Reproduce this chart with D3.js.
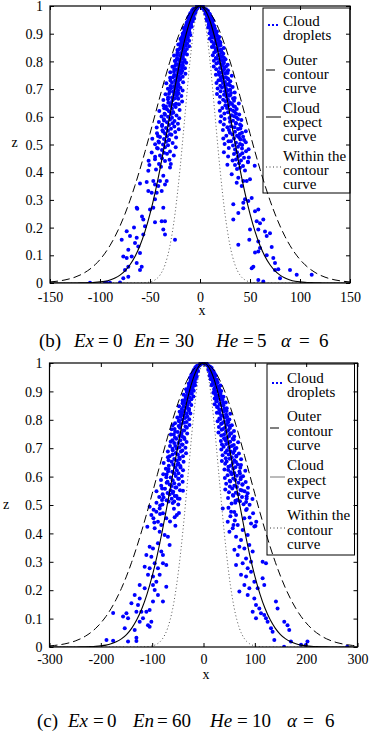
<!DOCTYPE html>
<html>
<head>
<meta charset="utf-8">
<script src="https://cdn.jsdelivr.net/npm/d3@7"></script>
<style>
  body { margin: 0; background: #fff; }
  text { font-family: "Liberation Serif", "DejaVu Serif", serif; fill: #000; }
</style>
</head>
<body>
<div id="chart"></div>
<script>
// ---- data ----
const yTicks = [0, 0.1, 0.2, 0.3, 0.4, 0.5, 0.6, 0.7, 0.8, 0.9, 1];
const yTickLabels = ["0", "0.1", "0.2", "0.3", "0.4", "0.5", "0.6", "0.7", "0.8", "0.9", "1"];
const xTicksB = [-150, -100, -50, 0, 50, 100, 150];
const xTicksC = [-300, -200, -100, 0, 100, 200, 300];

// sample positions of the three curves
const curveXB = [-150,-145,-140,-135,-130,-125,-120,-115,-110,-105,-100,-95,-90,-85,-80,-75,-70,-65,-60,-55,-50,-45,-40,-35,-30,-25,-20,-15,-10,-5,
  0,5,10,15,20,25,30,35,40,45,50,55,60,65,70,75,80,85,90,95,100,105,110,115,120,125,130,135,140,145,150];
const curveXC = [-300,-290,-280,-270,-260,-250,-240,-230,-220,-210,-200,-190,-180,-170,-160,-150,-140,-130,-120,-110,-100,-90,-80,-70,-60,-50,-40,-30,-20,-10,
  0,10,20,30,40,50,60,70,80,90,100,110,120,130,140,150,160,170,180,190,200,210,220,230,240,250,260,270,280,290,300];

// z of each curve at those positions (same shape in both panels)
const zExpect = [0,0,0,0,0.0001,0.0002,0.0003,0.0006,0.0012,0.0022,0.0039,0.0066,0.0111,0.0181,0.0286,0.0439,0.0657,0.0956,0.1353,0.1863,
  0.2494,0.3247,0.4111,0.5063,0.6065,0.7066,0.8007,0.8825,0.9460,0.9862,1,0.9862,0.9460,0.8825,0.8007,0.7066,0.6065,0.5063,0.4111,0.3247,
  0.2494,0.1863,0.1353,0.0956,0.0657,0.0439,0.0286,0.0181,0.0111,0.0066,0.0039,0.0022,0.0012,0.0006,0.0003,0.0002,0.0001,0,0,0,0];
const zOuter = [0.0039,0.0056,0.0079,0.0111,0.0154,0.0211,0.0286,0.0382,0.0504,0.0657,0.0847,0.1077,0.1353,0.1680,0.2059,0.2494,0.2982,0.3523,0.4111,0.4738,
  0.5394,0.6065,0.6736,0.7390,0.8007,0.8570,0.9060,0.9460,0.9756,0.9938,1,0.9938,0.9756,0.9460,0.9060,0.8570,0.8007,0.7390,0.6736,0.6065,
  0.5394,0.4738,0.4111,0.3523,0.2982,0.2494,0.2059,0.1680,0.1353,0.1077,0.0847,0.0657,0.0504,0.0382,0.0286,0.0211,0.0154,0.0111,0.0079,0.0056,0.0039];
const zInner = [0,0,0,0,0,0,0,0,0,0,0,0,0,0,0,0,0,0.0001,0.0003,0.0012,
  0.0039,0.0111,0.0286,0.0657,0.1353,0.2494,0.4111,0.6065,0.8007,0.9460,1,0.9460,0.8007,0.6065,0.4111,0.2494,0.1353,0.0657,0.0286,0.0111,
  0.0039,0.0012,0.0003,0.0001,0,0,0,0,0,0,0,0,0,0,0,0,0,0,0,0,0];

// cloud droplets [x, z], panel (b)
const dropsB = [
  [0,1],[-1,0.999],[-2,0.998],[-3,0.995],[-4,0.99],[-4.5,0.98],[-5,0.985],[-5.5,0.975],[-6,0.98],[-6.5,0.97],[-7,0.975],[-7.5,0.96],[-8,0.965],[-8.5,0.955],[-9,0.96],
  [1,0.999],[2,0.997],[3,0.993],[3.5,0.99],[4,0.99],[5,0.985],[5.5,0.98],[6,0.978],[6.5,0.973],[7,0.97],[7.5,0.965],[8,0.962],[8.5,0.95],[9,0.958],
  [-3.5,0.988],[2.5,0.992],[-2.5,0.993],[4.5,0.986],[-5,0.978],
  [-10,0.97],[-11,0.962],[-12,0.958],[-6,0.99],[-8,0.984],[-9.5,0.975],[-3,0.999],[10,0.968],[11,0.96],[12,0.955],[6,0.988],[8,0.982],[9.5,0.972],[3,0.998],
  [-7,0.988],[7,0.985],[-10.5,0.965],[10.5,0.962],
  [-8,0.955],[-11,0.952],[-9,0.948],[-12,0.945],[-7.5,0.947],[-10,0.94],[-13,0.938],[-8.5,0.942],[-11.5,0.935],[-9,0.932],[-12,0.93],[-14,0.927],[-10,0.931],
  [-11,0.925],[-13.5,0.922],[-12.5,0.92],[-10.5,0.918],[-15,0.917],[-13,0.915],[-11,0.912],[-14,0.91],[-12,0.908],[-16,0.906],[-13.5,0.905],[-11.5,0.902],
  [-15,0.9],[-12.5,0.897],[-17,0.898],[-14,0.895],[-16.5,0.892],[-13,0.89],[-15.5,0.887],[-18,0.888],[-16,0.88],[-14,0.878],[-19,0.882],[-15,0.87],
  [-17.5,0.868],[-18,0.86],[-14.5,0.857],[-20,0.862],[-16.5,0.85],[-19.5,0.848],[-17,0.84],[-21,0.843],[-15,0.837],[-19,0.83],[-16,0.827],[-20,0.82],
  [-17.5,0.818],[-23,0.823],[-18.5,0.81],[-21.5,0.808],[-20,0.8],[-24,0.803],[-17,0.797],[-22,0.79],[-19,0.787],[-21,0.78],[-25,0.783],[-18,0.776],
  [-23,0.77],[-20,0.767],[-22,0.76],[-26,0.763],[-19,0.757],[-24,0.75],[-21,0.747],[-23,0.74],[-27,0.743],[-20,0.737],[-25,0.73],[-22,0.727],[-24,0.72],
  [-28,0.723],[-21.5,0.716],[-26,0.71],[-23,0.707],[-25,0.7],[-29,0.703],[-22,0.696],[-27,0.69],[-24,0.687],[-26,0.68],[-31,0.683],[-23,0.676],[-28,0.67],
  [-25,0.667],[-27.5,0.66],[-32,0.663],[-29,0.65],[-24,0.647],[-30,0.64],[-26,0.643],[-34,0.637],[-28,0.63],[-33,0.627],[-31,0.62],[-27,0.617],[-29,0.61],
  [-35,0.607],[-32,0.6],[-28,0.597],[-30,0.59],[-36,0.587],[-33,0.58],[-27.5,0.577],[-31,0.57],[-38,0.567],[-34,0.56],[-29,0.557],[-32,0.55],[-37,0.547],
  [-35,0.54],[-30,0.537],[-33,0.53],[-40,0.527],[-36,0.52],[-31,0.517],[-34,0.51],[-41,0.507],[-37,0.5],[-32,0.497],[-35,0.49],[-43,0.487],[-38,0.48],
  [-36,0.47],[-33,0.467],[-40,0.46],[-38,0.45],[-45,0.447],[-35,0.44],[-41,0.43],[-39,0.42],[-30,0.417],[-44,0.41],
  [-4.7,0.975],[-8,0.971],[-6.4,0.965],[-10.8,0.961],[-5.9,0.955],[-10.5,0.951],[-7.6,0.945],[-13.1,0.941],[-9.4,0.935],[-13.8,0.931],[-8.3,0.925],[-16.5,0.921],
  [-11.3,0.915],[-15.1,0.911],[-10.5,0.905],[-17.2,0.901],[-9.6,0.895],[-16.6,0.891],[-12.1,0.885],[-19.5,0.881],[-10.9,0.875],[-18.6,0.871],[-12.9,0.865],
  [-21.7,0.861],[-10.9,0.855],[-19.3,0.851],[-13.1,0.845],[-22.6,0.841],[-15.3,0.835],[-22.5,0.831],[-13,0.825],[-26,0.821],[-17.3,0.815],[-23,0.811],
  [-15.4,0.805],[-25.2,0.801],[-13.8,0.795],[-24,0.791],[-17.1,0.785],[-27.6,0.781],[-15,0.775],[-25.7,0.771],[-17.6,0.765],[-29.7,0.761],[-14.6,0.755],
  [-25.9,0.751],[-17.3,0.745],[-29.9,0.741],[-20.1,0.735],[-29.5,0.731],[-16.9,0.725],[-33.7,0.721],[-22.1,0.715],[-29.5,0.711],[-19.6,0.705],[-32.1,0.701],
  [-17.4,0.695],[-30.2,0.691],[-21.4,0.685],[-34.5,0.681],[-18.6,0.675],[-31.9,0.671],[-21.7,0.665],[-36.6,0.661],[-17.9,0.655],[-31.7,0.651],[-21.1,0.645],
  [-36.5,0.641],[-24.3,0.635],[-35.8,0.631],[-20.4,0.625],[-40.7,0.621],[-26.6,0.615],[-35.5,0.611],[-23.5,0.605],[-38.5,0.601],[-20.8,0.595],[-36.1,0.591],
  [-25.5,0.585],[-41.1,0.581],[-22.1,0.575],[-37.9,0.571],[-25.7,0.565],[-43.3,0.561],[-21.2,0.555],[-37.5,0.551],[-24.8,0.545],[-43,0.541],[-28.6,0.535],
  [-42,0.531],[-23.9,0.525],[-47.7,0.521],[-31.1,0.515],[-41.5,0.511],[-27.4,0.505],[-44.9,0.501],[-24.3,0.49],[-42.2,0.486],[-30,0.475],[-48.3,0.471],
  [-26.2,0.46],[-44.9,0.456],[-30.5,0.445],[-51.4,0.441],[-29.2,0.43],[-50.6,0.426],
  [8.5,0.955],[10.5,0.951],[7,0.947],[11,0.944],[9.5,0.946],[12,0.94],[9,0.937],[10,0.934],[13,0.931],[11.5,0.928],[14,0.925],[9.5,0.922],[12.5,0.92],
  [15,0.918],[13.5,0.915],[11,0.912],[12,0.908],[16,0.906],[14.5,0.904],[13,0.9],[15.5,0.897],[17,0.893],[14,0.89],[12.5,0.886],[15,0.884],[18,0.881],
  [16,0.876],[19.5,0.873],[15,0.866],[17.5,0.864],[20,0.861],[18.5,0.856],[14,0.852],[17,0.846],[21,0.843],[19,0.84],[16,0.836],[22,0.832],[19.5,0.826],
  [18,0.822],[21,0.816],[24,0.813],[17,0.81],[20,0.806],[22.5,0.802],[18.5,0.796],[23.5,0.793],[21,0.79],[22,0.786],[26,0.782],[20,0.776],[24,0.772],
  [23,0.766],[27,0.763],[21.5,0.76],[25,0.756],[19,0.752],[22.5,0.746],[26,0.743],[24,0.74],[28,0.736],[21,0.732],[25,0.726],[23,0.722],[27,0.716],
  [30,0.713],[24.5,0.71],[22,0.706],[26,0.702],[28,0.696],[25,0.692],[31,0.686],[27,0.683],[24,0.68],[29,0.676],[26.5,0.672],[33,0.666],[28,0.662],
  [25.5,0.656],[30,0.652],[32,0.646],[28.5,0.642],[35,0.636],[27,0.632],[30.5,0.626],[33,0.622],[28,0.616],[36,0.612],[31.5,0.606],[34,0.602],
  [29.5,0.596],[38,0.592],[33,0.586],[30,0.582],[36,0.576],[40,0.572],[31,0.566],[34.5,0.562],[38,0.556],[29,0.552],[35,0.546],[42,0.542],[32.5,0.536],
  [37,0.532],[39,0.526],[34,0.522],[44,0.516],[31,0.512],[36,0.506],[40,0.502],[33,0.496],[38,0.492],[42,0.486],[35,0.482],[46,0.476],[37,0.472],
  [34,0.466],[40,0.462],[38,0.456],[44,0.452],[36,0.446],[41,0.442],[48,0.436],[39,0.432],[35,0.426],[43,0.422],[40,0.416],[37,0.412],[45,0.406],
  [5.3,0.972],[9.2,0.968],[7.1,0.962],[10.4,0.958],[6.6,0.952],[13.2,0.948],[9.4,0.942],[12.5,0.938],[8.7,0.932],[14.3,0.928],[8.2,0.922],[14.2,0.918],
  [10.6,0.912],[17,0.908],[9.5,0.902],[16.3,0.898],[11.4,0.892],[19.3,0.888],[9.8,0.882],[17.3,0.878],[11.8,0.872],[20.4,0.868],[13.9,0.862],[20.4,0.858],
  [11.9,0.852],[23.8,0.848],[15.8,0.842],[21.1,0.838],[14.2,0.832],[23.3,0.828],[12.8,0.822],[22.2,0.818],[15.8,0.812],[25.5,0.808],[13.9,0.802],[23.9,0.798],
  [16.4,0.792],[27.7,0.788],[13.7,0.782],[24.2,0.778],[16.2,0.772],[28.1,0.768],[18.8,0.762],[27.6,0.758],[15.9,0.752],[31.8,0.748],[20.9,0.742],[27.8,0.738],
  [18.5,0.732],[30.3,0.728],[16.5,0.722],[28.6,0.718],[20.3,0.712],[32.6,0.708],[17.6,0.702],[30.2,0.698],[20.6,0.692],[34.7,0.688],[17,0.682],[30.1,0.678],
  [20,0.672],[34.7,0.668],[23.1,0.662],[34,0.658],[19.4,0.652],[38.8,0.648],[25.4,0.642],[33.8,0.638],[22.4,0.632],[36.7,0.628],[19.9,0.622],[34.5,0.618],
  [24.4,0.612],[39.2,0.608],[21.1,0.602],[36.2,0.598],[24.6,0.592],[41.4,0.588],[20.3,0.582],[35.9,0.578],[23.8,0.572],[41.2,0.568],[27.4,0.562],[40.3,0.558],
  [22.9,0.552],[45.8,0.548],[29.9,0.542],[39.8,0.538],[26.3,0.532],[43.1,0.528],[23.3,0.522],[40.4,0.518],[28.5,0.512],[45.8,0.508],[24.6,0.502],[42.2,0.498],
  [28.8,0.487],[48.6,0.483],[23.9,0.472],[42.3,0.468],[28.1,0.457],[48.8,0.453],[32.6,0.442],[47.9,0.438],[27.4,0.427],[54.7,0.423],
  [-51.7,0.405],[-60,0.359],[-53.3,0.365],[-51.7,0.332],[-46.7,0.368],[-45,0.356],[-48.3,0.326],[-43.3,0.326],[-41.7,0.35],[-40,0.368],[-36.7,0.387],
  [-35,0.356],[-33.3,0.368],[-38.3,0.332],[-45,0.302],[-46.7,0.272],[-50,0.265],[-63.3,0.272],[-36.7,0.272],[-56.7,0.229],[-55,0.205],[-45,0.219],
  [-38.3,0.223],[-35,0.223],[-36.7,0.193],[-35,0.175],[-25,0.156],[-73.3,0.187],[-78.3,0.156],[-63.3,0.163],[-65,0.144],[-61.7,0.132],[-56.7,0.175],
  [-71.7,0.12],[-76.7,0.096],[-73.3,0.09],[-68.3,0.096],[-60,0.108],[-63.3,0.072],[-58.3,0.059],[-60,0.047],[-71.7,0.059],[-75,0.047],[-76.7,0.017],
  [-71.7,0.023],[-80,0.002],[-90,0.001],[-93.3,0.001],[-110,0.001],[-95,0.001],[-62.7,0.268],[-58,0.24],[-66,0.2],[-70,0.17],
  [36.7,0.362],[31.7,0.393],[38.3,0.38],[41.7,0.35],[43.3,0.368],[46.7,0.368],[50,0.375],[45,0.302],[43.3,0.29],[48.3,0.296],[51.7,0.307],[55,0.259],
  [58.3,0.265],[33.3,0.284],[38.3,0.253],[43.3,0.27],[33.3,0.229],[56.7,0.223],[60,0.216],[63.3,0.229],[58.3,0.193],[65,0.186],[70,0.18],[66.7,0.17],
  [38.3,0.138],[60,0.126],[58.3,0.114],[55,0.11],[58.3,0.15],[49.3,0.156],[50,0.193],[53.3,0.059],[51.7,0.053],[73.3,0.09],[75,0.072],[78.3,0.05],
  [80,0.017],[90,0.047],[96.7,0.03],[111.7,0.03],[58.3,0.011],[63.3,0.005],[66.7,0.1],[71.7,0.13],[75,0.047]
];

// cloud droplets [x, z], panel (c)
const dropsC = [
  [-2,0.999],[-5,0.997],[-8,0.992],[-10,0.988],[-12,0.984],[-14,0.978],[-6,0.994],[-11,0.986],[-15,0.97],[-13,0.975],[-16,0.965],[-9,0.99],[-4,0.998],[-17,0.96],
  [2,0.999],[5,0.996],[7,0.993],[10,0.987],[12,0.983],[14,0.976],[9,0.99],[15,0.972],[13,0.978],[16,0.964],[11,0.985],[3,0.998],[17,0.958],[6,0.995],[0,1],
  [-20,0.97],[-22,0.962],[-24,0.958],[-12,0.99],[-16,0.984],[-19,0.975],[-6,0.999],[20,0.968],[22,0.96],[24,0.955],[12,0.988],[16,0.982],[19,0.972],[6,0.998],
  [-14,0.988],[14,0.985],[-21,0.965],[21,0.962],
  [-18,0.952],[-22,0.948],[-15,0.944],[-20,0.94],[-25,0.936],[-17,0.932],[-23,0.928],[-27,0.924],[-20,0.92],[-25,0.915],[-29,0.911],[-22,0.907],[-27,0.902],
  [-31,0.898],[-24,0.894],[-30,0.889],[-34,0.884],[-27,0.879],[-32,0.874],[-37,0.869],[-29,0.864],[-35,0.858],[-31,0.852],[-39,0.847],[-34,0.842],[-28,0.838],
  [-37,0.832],[-42,0.827],[-33,0.822],[-39,0.816],[-45,0.811],[-36,0.806],[-41,0.8],[-48,0.795],[-38,0.79],[-44,0.785],[-60,0.781],[-35,0.776],[-46,0.772],
  [-62,0.767],[-40,0.762],[-50,0.757],[-43,0.752],[-58,0.748],[-47,0.743],[-38,0.738],[-53,0.733],[-45,0.728],[-64,0.723],[-49,0.718],[-42,0.713],[-55,0.708],
  [-47,0.703],[-52,0.698],[-60,0.693],[-44,0.688],[-54,0.683],[-50,0.678],[-66,0.672],[-47,0.667],[-57,0.662],[-52,0.657],[-62,0.652],[-49,0.647],[-59,0.642],
  [-45,0.637],[-55,0.632],[-68,0.627],[-52,0.622],[-61,0.617],[-57,0.612],[-72,0.607],[-54,0.602],[-64,0.597],[-48,0.592],[-60,0.587],[-70,0.582],[-57,0.577],
  [-66,0.572],[-62,0.567],[-53,0.562],[-75,0.557],[-64,0.552],[-59,0.547],[-70,0.542],[-66,0.537],[-56,0.532],[-78,0.527],[-62,0.522],[-72,0.517],[-68,0.512],
  [-60,0.507],[-80,0.502],
  [-10.6,0.972],[-18.4,0.968],[-14.2,0.962],[-20.8,0.958],[-13.2,0.952],[-26.4,0.948],[-18.8,0.942],[-25,0.938],[-17.4,0.932],[-28.6,0.928],[-16.4,0.922],
  [-28.4,0.918],[-21.2,0.912],[-34,0.908],[-19,0.902],[-32.6,0.898],[-22.8,0.892],[-38.6,0.888],[-19.6,0.882],[-34.6,0.878],[-23.6,0.872],[-40.8,0.868],
  [-27.8,0.862],[-40.8,0.858],[-23.8,0.852],[-47.6,0.848],[-31.6,0.842],[-42.2,0.838],[-28.4,0.832],[-46.6,0.828],[-25.6,0.822],[-44.4,0.818],[-31.6,0.812],
  [-51,0.808],[-27.8,0.802],[-47.8,0.798],[-32.8,0.792],[-55.4,0.788],[-27.4,0.782],[-48.4,0.778],[-32.4,0.772],[-56.2,0.768],[-37.6,0.762],[-55.2,0.758],
  [-31.8,0.752],[-63.6,0.748],[-41.8,0.742],[-55.6,0.738],[-37,0.732],[-60.6,0.728],[-33,0.722],[-57.2,0.718],[-40.6,0.712],[-65.2,0.708],[-35.2,0.702],
  [-60.4,0.698],[-41.2,0.692],[-69.4,0.688],[-34,0.682],[-60.2,0.678],[-40,0.672],[-69.4,0.668],[-46.2,0.662],[-68,0.658],[-38.8,0.652],[-77.6,0.648],
  [-50.8,0.642],[-67.6,0.638],[-44.8,0.632],[-73.4,0.628],[-39.8,0.622],[-69,0.618],[-48.8,0.612],[-78.4,0.608],[-42.2,0.602],[-72.4,0.598],[-49.2,0.592],
  [-82.8,0.588],[-40.6,0.582],[-71.8,0.578],[-47.6,0.572],[-82.4,0.568],[-54.8,0.562],[-80.6,0.558],[-45.8,0.552],[-91.6,0.548],[-59.8,0.542],[-79.6,0.538],
  [-52.6,0.532],[-86.2,0.528],[-46.6,0.522],[-80.8,0.518],[-57,0.512],[-91.6,0.508],[-49.2,0.502],[-84.4,0.498],[-57.6,0.487],[-97.2,0.483],[-47.8,0.472],
  [-84.6,0.468],[-56.2,0.457],[-97.6,0.453],[-65.2,0.442],[-95.8,0.438],[-54.8,0.427],[-109.4,0.423],
  [17,0.952],[21,0.947],[14,0.943],[24,0.939],[19,0.935],[26,0.93],[22,0.926],[16,0.922],[28,0.917],[24,0.913],[21,0.909],[30,0.905],[26,0.9],[32,0.895],
  [23,0.891],[29,0.886],[35,0.881],[27,0.876],[33,0.871],[25,0.866],[38,0.861],[31,0.856],[36,0.85],[28,0.845],[41,0.84],[34,0.835],[39,0.829],[31,0.824],
  [44,0.819],[37,0.814],[42,0.808],[33,0.803],[47,0.798],[40,0.793],[36,0.788],[45,0.783],[51,0.778],[42,0.773],[38,0.768],[48,0.763],[44,0.758],[54,0.753],
  [40,0.748],[50,0.743],[46,0.738],[57,0.733],[43,0.728],[52,0.723],[48,0.718],[36,0.713],[55,0.708],[50,0.703],[61,0.698],[46,0.693],[53,0.688],[58,0.683],
  [49,0.678],[64,0.673],[55,0.668],[51,0.663],[60,0.658],[45,0.653],[57,0.648],[67,0.643],[53,0.638],[62,0.633],[58,0.628],[48,0.623],[70,0.618],[60,0.613],
  [55,0.608],[65,0.603],[73,0.598],[58,0.593],[62,0.588],[52,0.583],[68,0.578],[76,0.573],[60,0.568],[65,0.563],[56,0.558],[72,0.553],[80,0.548],[63,0.543],
  [68,0.538],[58,0.533],[75,0.528],[84,0.523],[66,0.518],[71,0.513],[62,0.508],[78,0.503],
  [9.4,0.975],[16,0.971],[12.8,0.965],[21.6,0.961],[11.8,0.955],[21,0.951],[15.2,0.945],[26.2,0.941],[18.8,0.935],[27.6,0.931],[16.6,0.925],[33,0.921],
  [22.6,0.915],[30.2,0.911],[21,0.905],[34.4,0.901],[19.2,0.895],[33.2,0.891],[24.2,0.885],[39,0.881],[21.8,0.875],[37.2,0.871],[25.8,0.865],[43.4,0.861],
  [21.8,0.855],[38.6,0.851],[26.2,0.845],[45.2,0.841],[30.6,0.835],[45,0.831],[26,0.825],[52,0.821],[34.6,0.815],[46,0.811],[30.8,0.805],[50.4,0.801],
  [27.6,0.795],[48,0.791],[34.2,0.785],[55.2,0.781],[30,0.775],[51.4,0.771],[35.2,0.765],[59.4,0.761],[29.2,0.755],[51.8,0.751],[34.6,0.745],[59.8,0.741],
  [40.2,0.735],[59,0.731],[33.8,0.725],[67.4,0.721],[44.2,0.715],[59,0.711],[39.2,0.705],[64.2,0.701],[34.8,0.695],[60.4,0.691],[42.8,0.685],[69,0.681],
  [37.2,0.675],[63.8,0.671],[43.4,0.665],[73.2,0.661],[35.8,0.655],[63.4,0.651],[42.2,0.645],[73,0.641],[48.6,0.635],[71.6,0.631],[40.8,0.625],[81.4,0.621],
  [53.2,0.615],[71,0.611],[47,0.605],[77,0.601],[41.6,0.595],[72.2,0.591],[51,0.585],[82.2,0.581],[44.2,0.575],[75.8,0.571],[51.4,0.565],[86.6,0.561],
  [42.4,0.555],[75,0.551],[49.6,0.545],[86,0.541],[57.2,0.535],[84,0.531],[47.8,0.525],[95.4,0.521],[62.2,0.515],[83,0.511],[54.8,0.505],[89.8,0.501],
  [48.6,0.49],[84.4,0.486],[60,0.475],[96.6,0.471],[52.4,0.46],[89.8,0.456],[61,0.445],[102.8,0.441],[58.4,0.43],[101.2,0.426],
  [-104.9,0.494],[-85.4,0.488],[-101.6,0.465],[-91.9,0.476],[-79,0.471],[-72.5,0.453],[-88.7,0.441],[-82.2,0.43],[-95.1,0.418],[-85.4,0.406],[-75.7,0.394],
  [-69.3,0.388],[-104.9,0.353],[-98.4,0.347],[-111.3,0.324],[-88.7,0.365],[-82.2,0.336],[-79,0.324],[-101.6,0.318],[-66,0.359],[-114.6,0.283],[-104.9,0.277],
  [-95.1,0.295],[-88.7,0.277],[-79,0.295],[-72.5,0.289],[-108.1,0.254],[-98.4,0.248],[-85.4,0.254],[-124.3,0.218],[-114.6,0.207],[-98.4,0.218],[-91.9,0.23],
  [-72.5,0.212],[-134,0.183],[-124.3,0.171],[-140.4,0.154],[-127.6,0.148],[-95.1,0.201],[-88.7,0.183],[-98.4,0.16],[-79,0.16],[-121,0.124],[-111.3,0.124],
  [-104.9,0.13],[-130.7,0.124],[-150.1,0.119],[-156.7,0.107],[-147,0.101],[-117.9,0.101],[-101.6,0.089],[-108.1,0.077],[-104.9,0.071],[-124.3,0.089],
  [-153.4,0.066],[-134,0.06],[-189,0.025],[-176.1,0.022],[-147,0.019],[-130.7,0.033],[-130.7,0.021],[-176,0.12],[-50,0.523],[-52,0.465],[-40,0.55],
  [37.5,0.488],[53.7,0.476],[63.4,0.465],[47.2,0.441],[66.7,0.43],[56.9,0.418],[76.3,0.412],[82.9,0.482],[79.6,0.453],[92.6,0.435],[86.1,0.394],[73.1,0.377],
  [50.5,0.406],[63.4,0.388],[99,0.424],[69.9,0.353],[60.2,0.342],[79.6,0.347],[89.3,0.359],[66.7,0.324],[82.9,0.312],[95.8,0.336],[76.3,0.295],[86.1,0.277],
  [92.6,0.3],[115.2,0.3],[121.7,0.295],[63.4,0.289],[73.1,0.254],[82.9,0.248],[92.6,0.265],[79.6,0.218],[89.3,0.207],[99,0.23],[105.5,0.207],[115.2,0.242],
  [118.4,0.218],[69.9,0.195],[99,0.171],[102.3,0.148],[108.7,0.136],[112,0.119],[121.7,0.101],[124.9,0.089],[118.4,0.113],[141.1,0.16],[144.3,0.136],
  [157.3,0.089],[163.7,0.077],[134.6,0.054],[137.9,0.025],[170.3,0.019],[202.5,0.019],[199.4,0.007],[95.8,0.124],[102.3,0.101],[86.1,0.183],[131.5,0.066],
  [157,0.001],[190,0.008],[280,0.001],[167,0.06]
];

const legendLabels = [["Cloud", "droplets"], ["Outer", "contour", "curve"], ["Cloud", "expect", "curve"], ["Within the", "contour", "curve"]];
const captionB = ["(b)", "Ex", "=", "0", "En", "=", "30", "He", "=", "5", "\u03B1", "=", "6"];
const captionC = ["(c)", "Ex", "=", "0", "En", "=", "60", "He", "=", "10", "\u03B1", "=", "6"];
const captionItalic = [false, true, false, false, true, false, false, true, false, false, true, false, false];

// ---- layout ----
const W = 369, H = 734;
const FONT = "Liberation Serif, DejaVu Serif, serif";
const svg = d3.select("#chart").append("svg").attr("width", W).attr("height", H);

const panels = [
  {
    id: "b", left: 50, right: 350, top: 6, bottom: 283, domain: [-150, 150],
    xTicks: xTicksB, curveX: curveXB, drops: dropsB,
    tickBase: 302, xLabel: [202, 315], zLabel: [14.5, 147],
    legend: { x: 263, y: 8, w: 87, h: 185, textX: 283, sx0: 266,
      base: [[26, 40.3], [64.5, 78.8, 93.1], [112.5, 126.8, 141.1], [160.5, 174.8, 189.1]],
      sy: [25, 70, 117, 167], solid: "#000" },
    caption: captionB, capBase: 347, capX: [39, 74, 98, 113, 134, 159, 175, 216, 243, 257, 281, 299, 319]
  },
  {
    id: "c", left: 49.5, right: 357.5, top: 363, bottom: 647, domain: [-300, 300],
    xTicks: xTicksC, curveX: curveXC, drops: dropsC,
    tickBase: 664, xLabel: [206, 679], zLabel: [6, 509],
    legend: { x: 267, y: 364, w: 87.5, h: 191, textX: 287, sx0: 270,
      base: [[382.7, 397.2], [421, 435.5, 450], [470, 484.5, 499], [520, 534.5, 549]],
      sy: [383, 428, 477, 528], solid: "#777" },
    caption: captionC, capBase: 727, capX: [37, 68, 93, 107, 133, 157, 172, 210, 237, 252, 287, 303, 325]
  }
];

panels.forEach(p => {
  const x = d3.scaleLinear().domain(p.domain).range([p.left, p.right]);
  const y = d3.scaleLinear().domain([0, 1]).range([p.bottom, p.top]);
  const g = svg.append("g");

  g.append("clipPath").attr("id", "clip-" + p.id)
    .append("rect").attr("x", p.left).attr("y", p.top - 1)
    .attr("width", p.right - p.left).attr("height", p.bottom - p.top + 1);

  // droplets
  g.append("g").attr("clip-path", "url(#clip-" + p.id + ")")
    .selectAll("circle").data(p.drops).enter().append("circle")
    .attr("cx", d => x(d[0])).attr("cy", d => y(d[1])).attr("r", 2)
    .attr("fill", "#0000ff");

  // curves
  const curves = [
    { z: zOuter, dash: "8,4", color: "#000", w: 1 },
    { z: zExpect, dash: null, color: "#000", w: 1.1 },
    { z: zInner, dash: "1,2.5", color: "#444", w: 0.9 }
  ];
  const line = d3.line().curve(d3.curveMonotoneX);
  curves.forEach(c => {
    g.append("path")
      .attr("clip-path", "url(#clip-" + p.id + ")")
      .attr("d", line(p.curveX.map((v, i) => [x(v), y(c.z[i])])))
      .attr("fill", "none").attr("stroke", c.color).attr("stroke-width", c.w)
      .attr("stroke-dasharray", c.dash);
  });

  // legend
  const L = p.legend;
  g.append("rect").attr("x", L.x).attr("y", L.y).attr("width", L.w).attr("height", L.h)
    .attr("fill", "none").attr("stroke", "#000").attr("stroke-width", 1);
  legendLabels.forEach((lines, i) => {
    lines.forEach((t, j) => {
      g.append("text").attr("x", L.textX).attr("y", L.base[i][j])
        .attr("font-size", 15).text(t);
    });
  });
  [0, 4, 8].forEach(dx => {
    g.append("rect").attr("x", L.sx0 + 2 + dx).attr("y", L.sy[0] - 1).attr("width", 2).attr("height", 2)
      .attr("fill", "#0000ff");
  });
  g.append("line").attr("x1", L.sx0).attr("x2", L.sx0 + 9).attr("y1", L.sy[1]).attr("y2", L.sy[1])
    .attr("stroke", "#000").attr("stroke-width", 1);
  g.append("line").attr("x1", L.sx0).attr("x2", L.sx0 + 15).attr("y1", L.sy[2]).attr("y2", L.sy[2])
    .attr("stroke", L.solid).attr("stroke-width", 1);
  g.append("line").attr("x1", L.sx0).attr("x2", L.sx0 + 15).attr("y1", L.sy[3]).attr("y2", L.sy[3])
    .attr("stroke", "#222").attr("stroke-width", 0.9).attr("stroke-dasharray", "1,2.5");

  // axes: ticks inward on all four sides
  const styleAxis = sel => {
    sel.attr("font-family", FONT).attr("font-size", 14);
    sel.select(".domain").remove();
    sel.selectAll("line").attr("stroke", "#000");
    sel.selectAll("text").attr("fill", "#000");
  };
  g.append("g").attr("transform", "translate(0," + p.bottom + ")")
    .call(d3.axisBottom(x).tickValues(p.xTicks).tickSizeInner(-4).tickSizeOuter(0).tickFormat(d => String(d)))
    .call(styleAxis)
    .call(s => s.selectAll("text").attr("y", p.tickBase - p.bottom).attr("dy", null));
  g.append("g").attr("transform", "translate(0," + p.top + ")")
    .call(d3.axisTop(x).tickValues(p.xTicks).tickSizeInner(-4).tickSizeOuter(0).tickFormat(""))
    .call(styleAxis);
  g.append("g").attr("transform", "translate(" + p.left + ",0)")
    .call(d3.axisLeft(y).tickValues(yTicks).tickSizeInner(-4).tickSizeOuter(0).tickPadding(7)
      .tickFormat((d, i) => yTickLabels[i]))
    .call(styleAxis)
    .call(s => s.selectAll("text").attr("dy", "0.33em"));
  g.append("g").attr("transform", "translate(" + p.right + ",0)")
    .call(d3.axisRight(y).tickValues(yTicks).tickSizeInner(-4).tickSizeOuter(0).tickFormat(""))
    .call(styleAxis);

  // frame
  g.append("rect").attr("x", p.left).attr("y", p.top)
    .attr("width", p.right - p.left).attr("height", p.bottom - p.top)
    .attr("fill", "none").attr("stroke", "#000").attr("stroke-width", 1.2);

  // axis titles
  g.append("text").attr("x", p.xLabel[0]).attr("y", p.xLabel[1])
    .attr("text-anchor", "middle").attr("font-size", 14).text("x");
  g.append("text").attr("x", p.zLabel[0]).attr("y", p.zLabel[1])
    .attr("text-anchor", "middle").attr("font-size", 14).text("z");

  // caption
  const cap = g.append("text").attr("y", p.capBase).attr("font-size", 19);
  p.caption.forEach((t, i) => {
    cap.append("tspan").attr("x", p.capX[i])
      .attr("font-style", captionItalic[i] ? "italic" : "normal").text(t);
  });
});
</script>
</body>
</html>
